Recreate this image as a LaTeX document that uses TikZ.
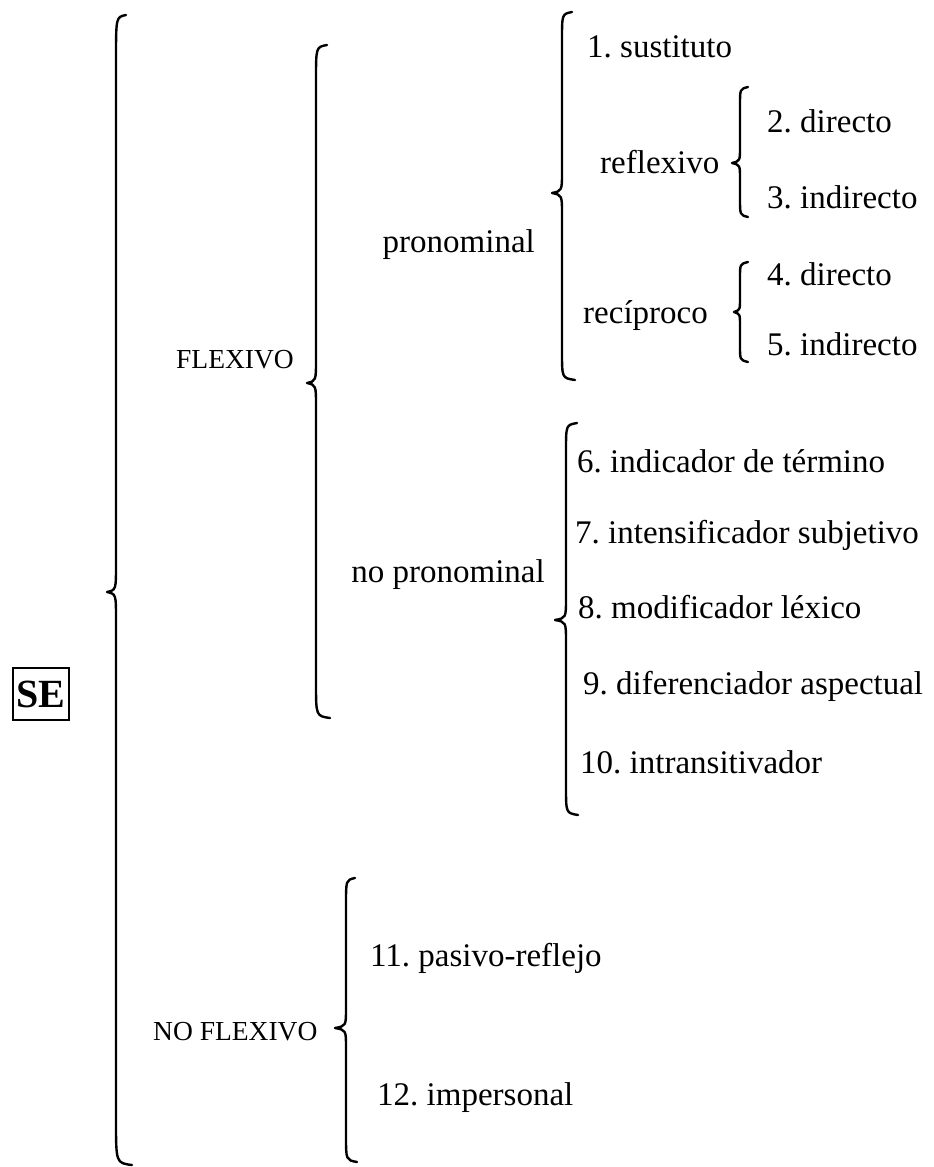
\documentclass[tikz,border=0pt]{standalone}
\usepackage{fontspec}
\setmainfont{Liberation Serif}
\frenchspacing
\begin{document}
\begin{tikzpicture}[x=1pt,y=-1pt,
  brace line/.style={line width=2.4pt, line cap=round, line join=round},
  item/.style={anchor=base west, inner sep=0pt, font=\fontsize{33}{36}\selectfont},
  itemr/.style={anchor=base east, inner sep=0pt, font=\fontsize{33}{36}\selectfont},
  caplabel/.style={anchor=base west, inner sep=0pt, font=\fontsize{27.5}{30}\selectfont},
  sebox/.style={draw, line width=2pt, minimum width=56pt, minimum height=52pt, inner sep=0pt, font=\fontsize{40}{42}\selectfont\bfseries}]
\useasboundingbox (0,0) rectangle (934,1167);
% #1 xv, #2 ytop, #3 ymid, #4 ybot, #5 top tip x, #6 bottom tip x, #7 cusp x, #8 end curve length, #9 cusp curve length
\newcommand\mybrace[9]{%
  \draw[brace line] (#5,#2) .. controls (#1,#2+2) .. (#1,#2+#8) -- (#1,#3-#9)
    .. controls (#1,#3-2) .. (#7,#3) .. controls (#1,#3+2) .. (#1,#3+#9)
    -- (#1,#4-#8) .. controls (#1,#4-2) .. (#6,#4);}
% braces
\mybrace{116}{15}{592}{1165}{126}{132}{107}{45}{28}
\mybrace{316}{45}{383}{718}{327}{330}{307}{35}{24}
\mybrace{562}{12}{193}{380}{572}{575}{552}{28}{22}
\mybrace{740}{87}{163}{217}{748}{748}{732}{18}{16}
\mybrace{740}{262}{312}{362}{748}{748}{734}{16}{14}
\mybrace{566}{423}{620}{815}{577}{578}{555}{28}{22}
\mybrace{346}{878}{1028}{1162}{355}{357}{335}{26}{20}
% labels
\node[sebox] (se) at (41,694) {SE};
\node[caplabel] (flex) at (176,368) {FLEXIVO};
\node[caplabel] (noflex) at (153,1040) {NO FLEXIVO};
\node[itemr] (pron) at (535,252) {pronominal};
\node[itemr] (nopron) at (545,582) {no pronominal};
\node[item] (refl) at (600,173) {reflexivo};
\node[item] (reci) at (583,323) {recíproco};
\node[item] (i1) at (587,57) {1. sustituto};
\node[item] (i2) at (767,132) {2. directo};
\node[item] (i3) at (767,208) {3. indirecto};
\node[item] (i4) at (767,285) {4. directo};
\node[item] (i5) at (767,355) {5. indirecto};
\node[item] (i6) at (577,472) {6. indicador de término};
\node[item] (i7) at (575,543) {7. intensificador subjetivo};
\node[item] (i8) at (578,618) {8. modificador léxico};
\node[item] (i9) at (583,694) {9. diferenciador aspectual};
\node[item] (i10) at (580,773) {10. intransitivador};
\node[item] (i11) at (370,966) {11. pasivo-reflejo};
\node[item] (i12) at (377,1105) {12. impersonal};
\end{tikzpicture}
\end{document}
